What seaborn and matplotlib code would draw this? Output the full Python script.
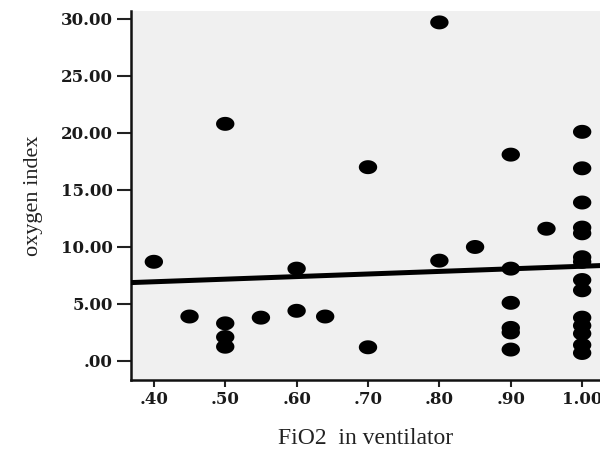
import numpy as np
import pandas as pd
import matplotlib
matplotlib.use("Agg")
import matplotlib.pyplot as plt
from matplotlib.path import Path
import seaborn as sns

# ---- data ----
fio2 = [0.40, 0.45,
        0.50, 0.50, 0.50, 0.50,
        0.55,
        0.60, 0.60,
        0.64,
        0.70, 0.70,
        0.80, 0.80,
        0.85,
        0.90, 0.90, 0.90, 0.90, 0.90, 0.90,
        0.95,
        1.00, 1.00, 1.00, 1.00, 1.00, 1.00, 1.00, 1.00, 1.00, 1.00, 1.00, 1.00, 1.00, 1.00]
oxygen_index = [8.7, 3.9,
                20.8, 3.3, 2.1, 1.25,
                3.8,
                8.1, 4.4,
                3.9,
                17.0, 1.2,
                29.7, 8.8,
                10.0,
                18.1, 8.1, 5.1, 2.9, 2.5, 1.0,
                11.6,
                20.1, 16.9, 13.9, 11.7, 11.2, 9.1, 8.7, 7.1, 6.2, 3.8, 3.1, 2.4, 1.4, 0.7]
# fit line as drawn in the reference (intercept, slope)
fit_intercept = 6.04
fit_slope = 2.27

xticks = [0.40, 0.50, 0.60, 0.70, 0.80, 0.90, 1.00]
xtick_labels = [".40", ".50", ".60", ".70", ".80", ".90", "1.00"]
yticks = [0, 5, 10, 15, 20, 25, 30]
ytick_labels = [".00", "5.00", "10.00", "15.00", "20.00", "25.00", "30.00"]

df = pd.DataFrame({"FiO2": fio2, "OI": oxygen_index})

sns.set_theme(style="ticks")
plt.rcParams["font.family"] = ["Liberation Serif", "DejaVu Serif"]

fig = plt.figure(figsize=(6, 4.5), dpi=100)
ax = fig.add_axes([131 / 600, 1 - 380 / 450, 1 - 131 / 600, (380 - 11) / 450])
ax.set_facecolor("#f0f0f0")

ax.set_xlim(0.368, 1.025)
ax.set_ylim(-1.67, 30.7)

t = np.linspace(0, 2 * np.pi, 64)
ellipse = Path(np.column_stack([np.cos(t), 0.76 * np.sin(t)]), closed=True)

sns.scatterplot(data=df, x="FiO2", y="OI", ax=ax, marker=ellipse, s=175,
                color="black", edgecolor="none", linewidth=0, zorder=3)
ax.axline((0, fit_intercept), slope=fit_slope, color="black", lw=3.6, zorder=4)

ax.set_xticks(xticks)
ax.set_xticklabels(xtick_labels)
ax.set_yticks(yticks)
ax.set_yticklabels(ytick_labels)
for lab in ax.get_xticklabels() + ax.get_yticklabels():
    lab.set_fontfamily(["DejaVu Serif"])
    lab.set_fontweight("bold")
    lab.set_fontsize(12)
    lab.set_color("#1a1a1a")

ax.tick_params(axis="y", direction="out", length=10, width=1.5, pad=3, color="#222222")
ax.tick_params(axis="x", direction="out", length=5, width=1.5, pad=3, color="#222222")

for side in ["top", "right"]:
    ax.spines[side].set_visible(False)
for side in ["left", "bottom"]:
    ax.spines[side].set_linewidth(1.8)
    ax.spines[side].set_color("#111111")

ax.set_xlabel("FiO2  in ventilator", fontsize=17, color="#222222", labelpad=14)
ax.set_ylabel("oxygen index", fontsize=16, color="#222222", labelpad=13)

fig.savefig("out.png", dpi=100)
